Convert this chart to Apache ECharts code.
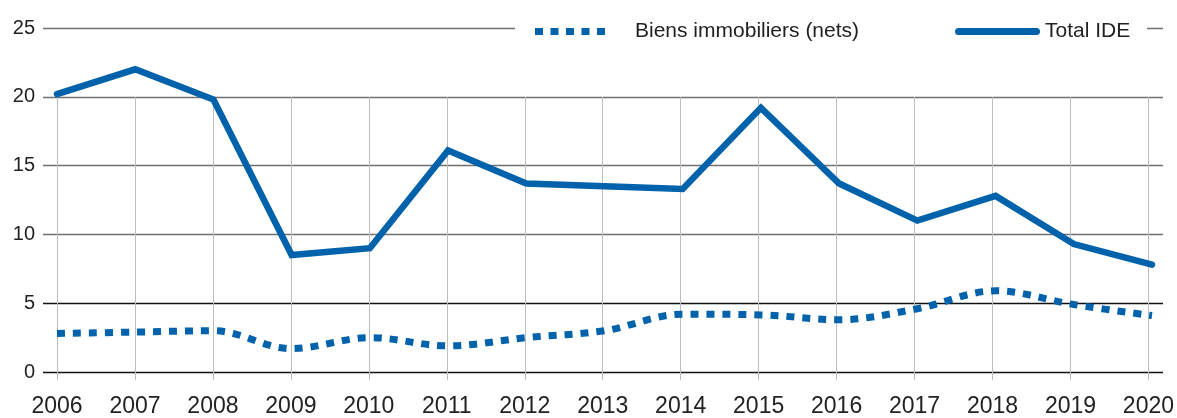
<!DOCTYPE html>
<html>
<head>
<meta charset="utf-8">
<script src="https://cdn.jsdelivr.net/npm/echarts@6/dist/echarts.min.js"></script>
<style>html,body{margin:0;padding:0;background:#fff}#c{width:1177px;height:418px}</style>
</head>
<body>
<div id="c"></div>
<script>
const years = ['2006','2007','2008','2009','2010','2011','2012','2013','2014','2015','2016','2017','2018','2019','2020'];
const biensImmobiliers = [2.8, 2.9, 3.0, 1.7, 2.5, 1.9, 2.5, 3.0, 4.2, 4.15, 3.8, 4.6, 5.9, 4.9, 4.1];
const totalIDE = [20.2, 22.0, 19.8, 8.5, 9.0, 16.1, 13.7, 13.5, 13.3, 19.2, 13.7, 11.0, 12.8, 9.3, 7.8];
const seriesNames = ['Biens immobiliers (nets)', 'Total IDE'];
const yMin = 0, yMax = 25, yStep = 5;

const BLUE = '#0062ab';
const FONT = 'Liberation Sans';
const dottedIcon = 'path://M0,0h8v7h-8z M15.5,0h8v7h-8z M31,0h8v7h-8z M46.5,0h8v7h-8z M62,0h8v7h-8z';
const solidIcon = 'path://M3.5,0H81.5A3.5,3.5 0 0 1 81.5,7H3.5A3.5,3.5 0 0 1 3.5,0Z';
const chart = echarts.init(document.getElementById('c'), null, {renderer: 'canvas'});
chart.setOption({
  animation: false,
  backgroundColor: '#fff',
  textStyle: {fontFamily: FONT, color: '#222'},
  grid: [
    {left: 43, right: 14, top: 28, bottom: 46},
    {left: 57, right: 25, top: 28, bottom: 46},
    {left: 57, right: 25, top: 97, bottom: 46}
  ],
  xAxis: [
    {gridIndex: 0, type: 'value', show: false, min: 0, max: 1},
    {gridIndex: 1, type: 'category', data: years, boundaryGap: false, show: false},
    {gridIndex: 2, type: 'category', data: years, boundaryGap: false,
     axisLine: {show: false},
     axisTick: {show: true, length: 11, lineStyle: {color: '#bdbdbd', width: 1}},
     splitLine: {show: true, lineStyle: {color: '#bdbdbd', width: 1}},
     axisLabel: {fontSize: 23, color: '#222', margin: 26, fontFamily: FONT}}
  ],
  yAxis: [
    {gridIndex: 0, type: 'value', min: yMin, max: yMax, interval: yStep,
     axisLine: {show: false}, axisTick: {show: false},
     axisLabel: {fontSize: 20, color: '#222', margin: 8, fontFamily: FONT, padding: [0,0,5,0]},
     splitLine: {show: true, lineStyle: {color: ['#111','#111','#707070','#707070','#707070','#707070'], width: 1.3}}},
    {gridIndex: 1, type: 'value', min: yMin, max: yMax, interval: yStep, show: false, splitLine: {show: false}},
    {gridIndex: 2, type: 'value', show: false, splitLine: {show: false}}
  ],
  legend: [
    {data: [{name: seriesNames[0], icon: dottedIcon}], left: 535, top: 21, padding: 0, itemWidth: 70, itemHeight: 7, z: 200,
     itemStyle: {color: BLUE}, textStyle: {fontSize: 21, color: '#222', fontFamily: FONT, padding: [0,0,0,25]}},
    {data: [{name: seriesNames[1], icon: solidIcon}], left: 955, top: 21, padding: 0, itemWidth: 85, itemHeight: 7, z: 200,
     itemStyle: {color: BLUE}, textStyle: {fontSize: 21, color: '#222', fontFamily: FONT}}
  ],
  graphic: [
    {type: 'rect', left: 515, top: 14, shape: {width: 632, height: 32}, style: {fill: '#fff'}, z: 100}
  ],
  series: [
    {name: seriesNames[0], type: 'line', xAxisIndex: 1, yAxisIndex: 1, data: biensImmobiliers,
     symbol: 'none', smooth: 0.35, z: 5,
     lineStyle: {color: BLUE, width: 7, type: [8, 8], cap: 'butt'}, itemStyle: {color: BLUE}},
    {name: seriesNames[1], type: 'line', xAxisIndex: 1, yAxisIndex: 1, data: totalIDE,
     symbol: 'none', z: 6,
     lineStyle: {color: BLUE, width: 6.5, cap: 'round', join: 'miter'}, itemStyle: {color: BLUE}}
  ]
});
</script>
</body>
</html>
